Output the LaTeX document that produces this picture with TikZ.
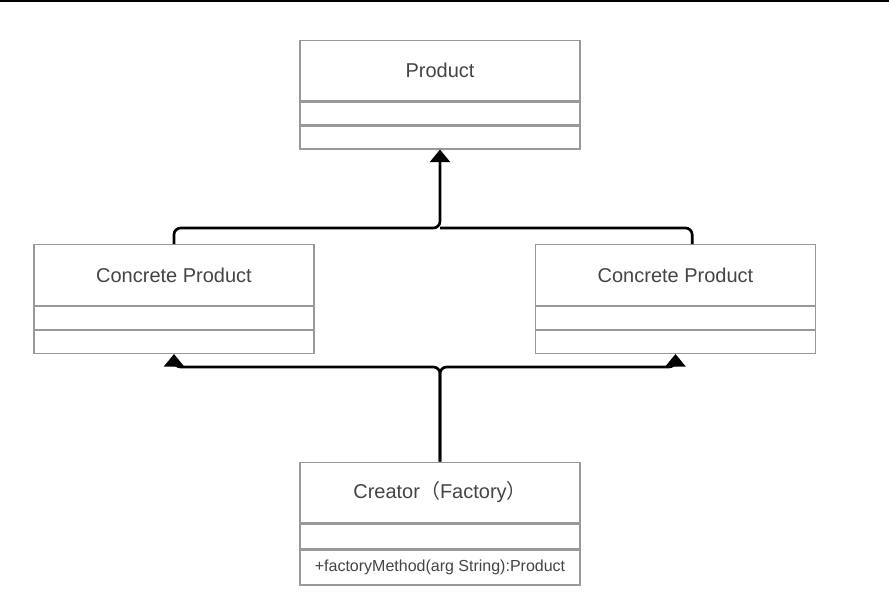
\documentclass[tikz,border=0pt]{standalone}
\usepackage{fontspec}
\setmainfont{Liberation Sans}
\newfontfamily\cjkfont{Noto Sans CJK SC}
\usetikzlibrary{arrows.meta, positioning}
\definecolor{textgray}{RGB}{68,68,68}

\begin{document}
\begin{tikzpicture}[
    x=0.75pt, y=-0.75pt,
    node distance=0pt,
    titlepart/.style={rectangle, draw=black, draw opacity=0.4, line width=1pt, minimum width=210pt, minimum height=45.5pt, inner sep=0pt, text=textgray, font=\fontsize{15}{18}\selectfont},
    emptypart/.style={rectangle, draw=black, draw opacity=0.4, line width=1pt, minimum width=210pt, minimum height=17pt, inner sep=0pt, text=textgray, font=\fontsize{12}{14}\selectfont},
    link/.style={line width=2pt, rounded corners=5pt},
    inherit/.style={link, -{Triangle[width=15pt,length=9.5pt]}}
]
\useasboundingbox (0,0) rectangle (889,603);
\draw[line width=1.5pt] (0,1) -- (889,1);

% Product
\node[titlepart] (prod-t) at (440,70.5) {Product};
\node[emptypart, below=of prod-t] (prod-a) {};
\node[emptypart, below=of prod-a] (prod-m) {};

% Concrete products
\node[titlepart] (cpl-t) at (174,275) {Concrete Product};
\node[emptypart, below=of cpl-t] (cpl-a) {};
\node[emptypart, below=of cpl-a] (cpl-m) {};

\node[titlepart] (cpr-t) at (675.5,275) {Concrete Product};
\node[emptypart, below=of cpr-t] (cpr-a) {};
\node[emptypart, below=of cpr-a] (cpr-m) {};

% Creator
\node[titlepart] (cr-t) at (440,492.5) {Creator{\cjkfont （}Factory{\cjkfont ）}};
\node[emptypart, minimum height=18.5pt, below=of cr-t] (cr-a) {};
\node[emptypart, minimum height=26pt, below=of cr-a] (cr-m) {+factoryMethod(arg String):Product};

% Generalization
\coordinate (joint) at (440,228);
\coordinate (split) at (440,367);
\coordinate (cpr-top) at ([xshift=12.5pt]cpr-t.north);
\draw[inherit] (cpl-t.north) |- (joint) -- (prod-m.south);
\draw[link] (joint) -| (cpr-top);

% Creation
\draw[inherit] (cr-t.north) -- (split) -| (cpl-m.south);
\draw[inherit] (cr-t.north) -- (split) -| (cpr-m.south);

\end{tikzpicture}
\end{document}
